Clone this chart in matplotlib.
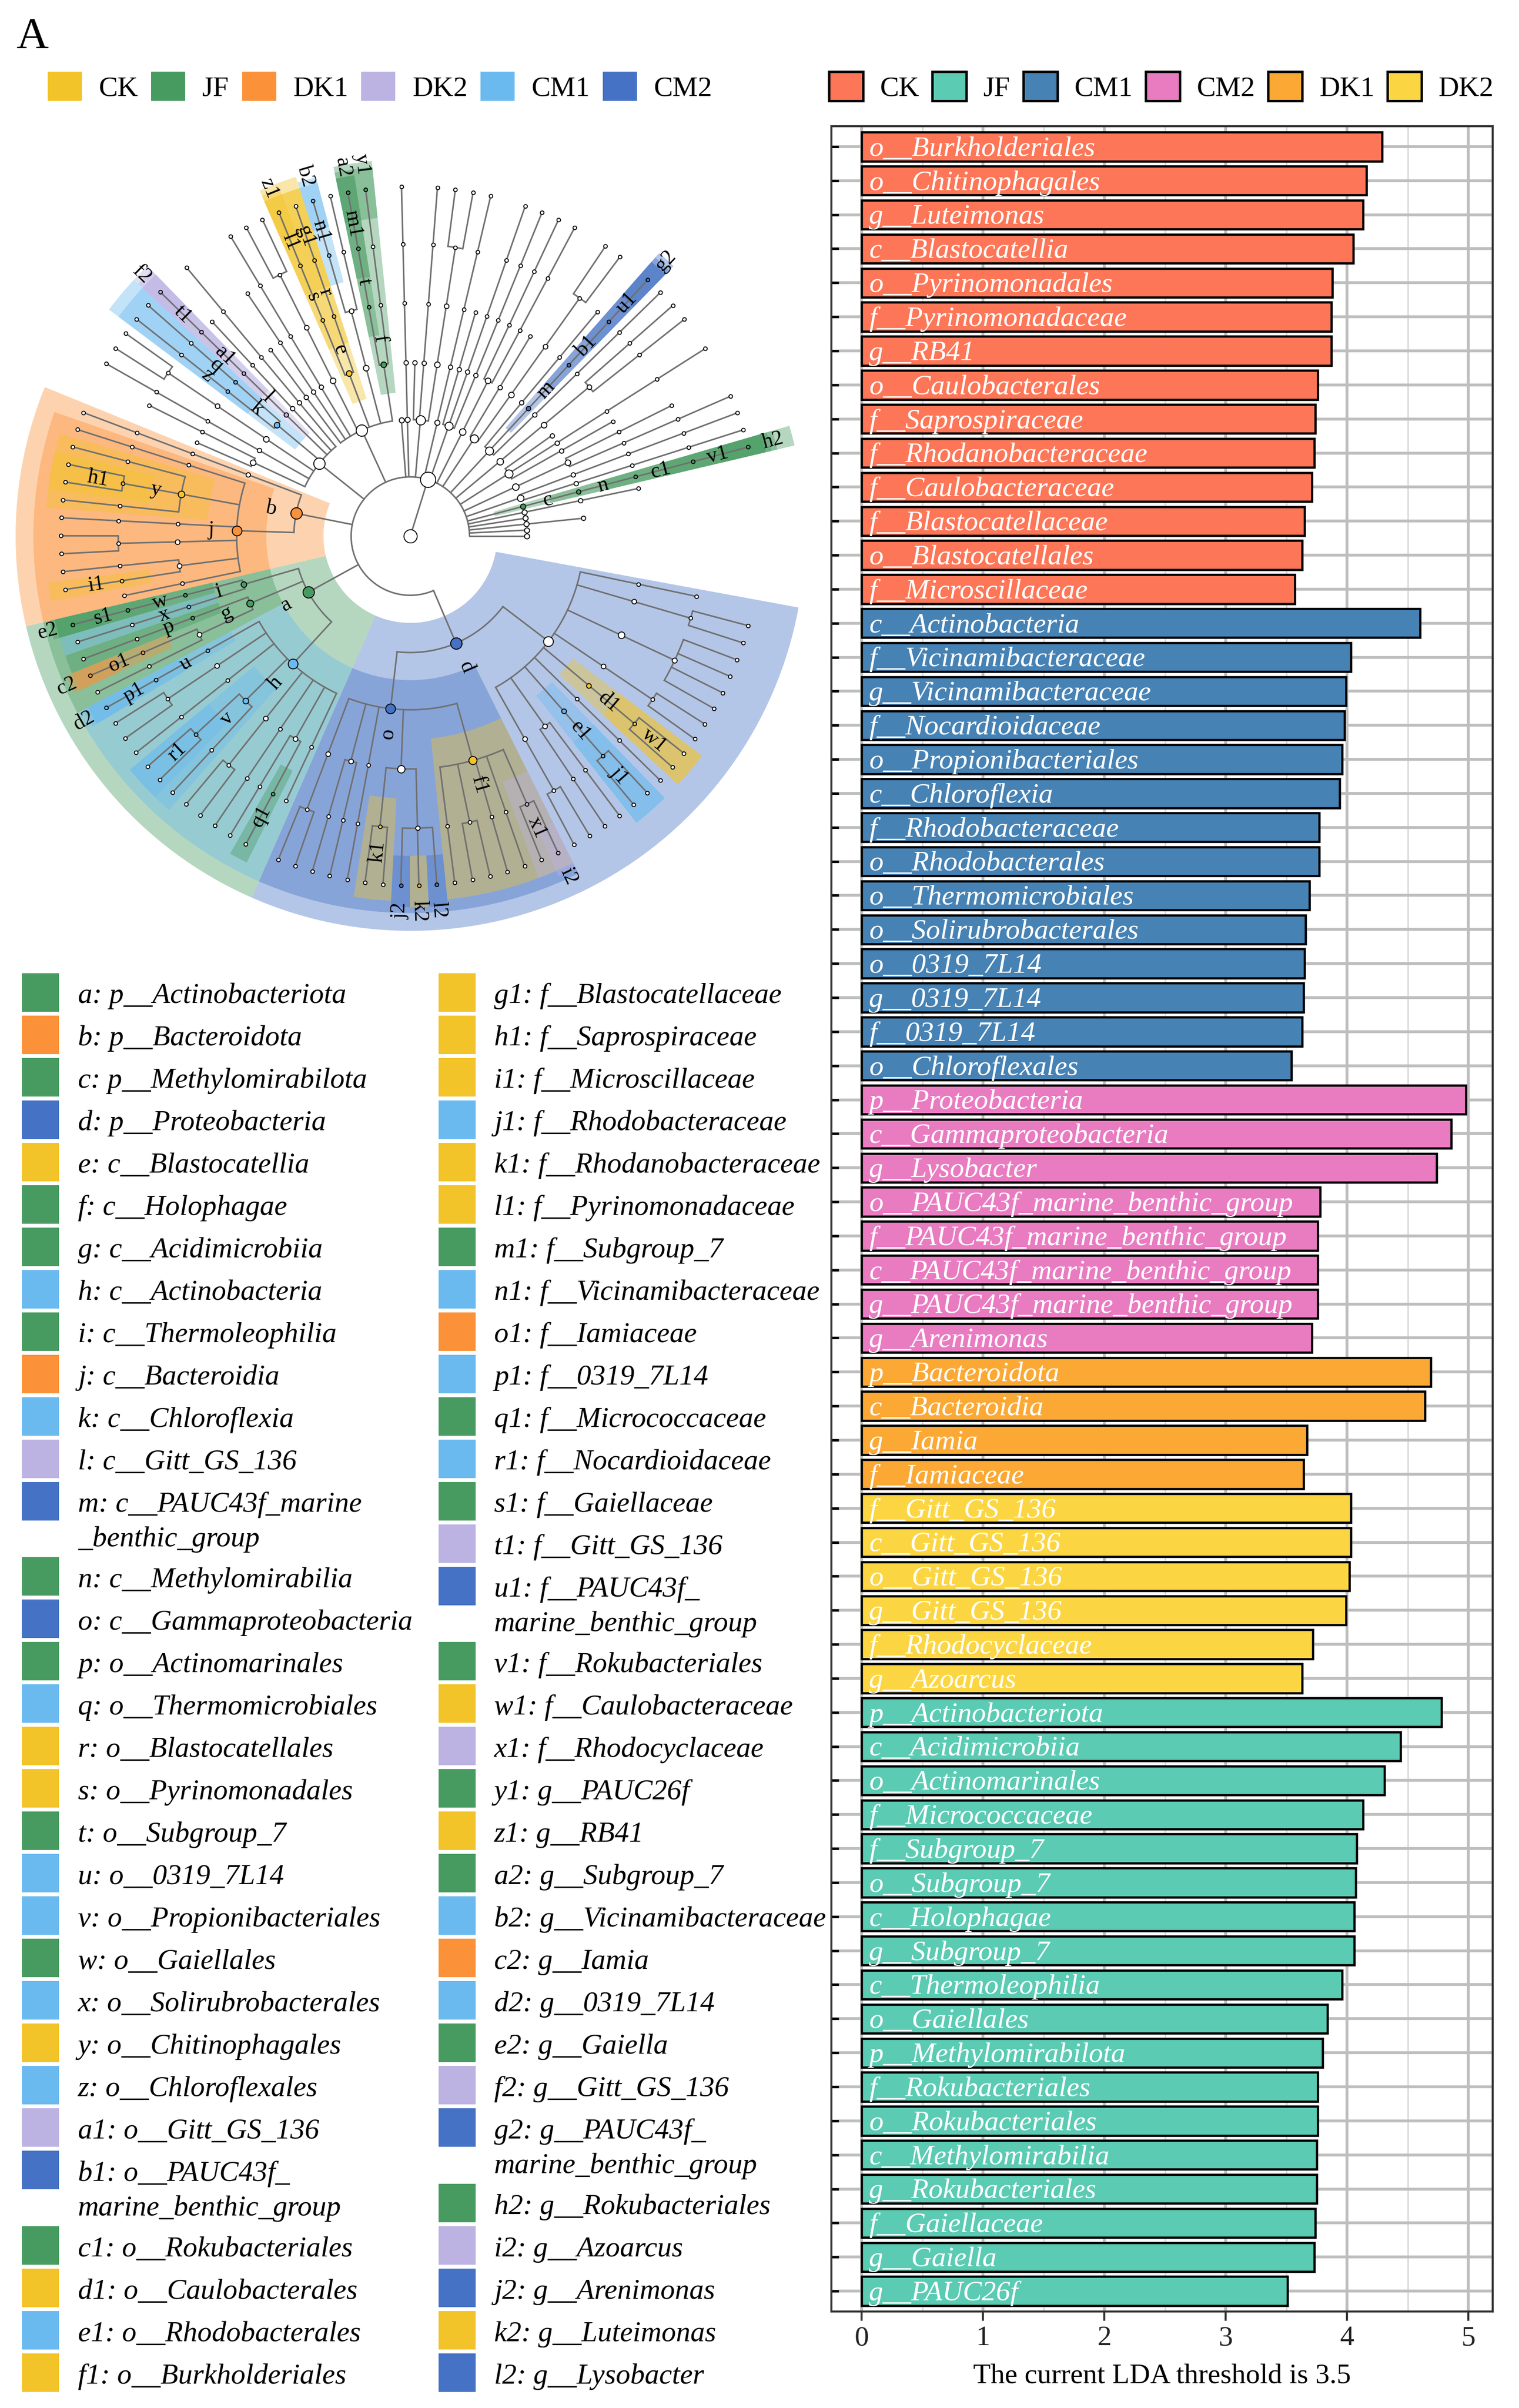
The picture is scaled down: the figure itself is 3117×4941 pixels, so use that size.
import numpy as np
import matplotlib
matplotlib.use('Agg')
import matplotlib.pyplot as plt
from matplotlib.patches import Wedge, Rectangle, Patch

plt.rcParams['font.family'] = ['Liberation Serif', 'DejaVu Serif']

# ===================== DATA =====================
# --- group colours ---
clado_groups = ['CK', 'JF', 'DK1', 'DK2', 'CM1', 'CM2']
clado_colors = {'CK': '#F2C42A', 'JF': '#479B60', 'DK1': '#FB9139',
                'DK2': '#BCB3E3', 'CM1': '#6BBAEF', 'CM2': '#4572C4'}
bar_legend_groups = ['CK', 'JF', 'CM1', 'CM2', 'DK1', 'DK2']
bar_colors = {'CK': '#FD7657', 'JF': '#5BCBB3', 'CM1': '#4682B4',
              'CM2': '#E97BC1', 'DK1': '#FBA834', 'DK2': '#FCD642'}

# --- LDA bar chart (top to bottom) ---
ck_taxa = ['o__Burkholderiales', 'o__Chitinophagales', 'g__Luteimonas', 'c__Blastocatellia',
           'o__Pyrinomonadales', 'f__Pyrinomonadaceae', 'g__RB41', 'o__Caulobacterales',
           'f__Saprospiraceae', 'f__Rhodanobacteraceae', 'f__Caulobacteraceae',
           'f__Blastocatellaceae', 'o__Blastocatellales', 'f__Microscillaceae']
ck_lda = [4.29, 4.16, 4.13, 4.05, 3.88, 3.87, 3.87, 3.76, 3.74, 3.73, 3.71, 3.65, 3.63, 3.57]
cm1_taxa = ['c__Actinobacteria', 'f__Vicinamibacteraceae', 'g__Vicinamibacteraceae',
            'f__Nocardioidaceae', 'o__Propionibacteriales', 'c__Chloroflexia',
            'f__Rhodobacteraceae', 'o__Rhodobacterales', 'o__Thermomicrobiales',
            'o__Solirubrobacterales', 'o__0319_7L14', 'g__0319_7L14', 'f__0319_7L14',
            'o__Chloroflexales']
cm1_lda = [4.60, 4.03, 3.99, 3.98, 3.96, 3.94, 3.77, 3.77, 3.69, 3.66, 3.65, 3.64, 3.63, 3.54]
cm2_taxa = ['p__Proteobacteria', 'c__Gammaproteobacteria', 'g__Lysobacter',
            'o__PAUC43f_marine_benthic_group', 'f__PAUC43f_marine_benthic_group',
            'c__PAUC43f_marine_benthic_group', 'g__PAUC43f_marine_benthic_group', 'g__Arenimonas']
cm2_lda = [4.98, 4.86, 4.74, 3.78, 3.76, 3.76, 3.76, 3.71]
dk1_taxa = ['p__Bacteroidota', 'c__Bacteroidia', 'g__Iamia', 'f__Iamiaceae']
dk1_lda = [4.69, 4.64, 3.67, 3.64]
dk2_taxa = ['f__Gitt_GS_136', 'c__Gitt_GS_136', 'o__Gitt_GS_136', 'g__Gitt_GS_136',
            'f__Rhodocyclaceae', 'g__Azoarcus']
dk2_lda = [4.03, 4.03, 4.02, 3.99, 3.72, 3.63]
jf_taxa = ['p__Actinobacteriota', 'c__Acidimicrobiia', 'o__Actinomarinales', 'f__Micrococcaceae',
           'f__Subgroup_7', 'o__Subgroup_7', 'c__Holophagae', 'g__Subgroup_7',
           'c__Thermoleophilia', 'o__Gaiellales', 'p__Methylomirabilota', 'f__Rokubacteriales',
           'o__Rokubacteriales', 'c__Methylomirabilia', 'g__Rokubacteriales', 'f__Gaiellaceae',
           'g__Gaiella', 'g__PAUC26f']
jf_lda = [4.78, 4.44, 4.31, 4.13, 4.08, 4.07, 4.06, 4.06, 3.96, 3.84, 3.80, 3.76, 3.76,
          3.75, 3.75, 3.74, 3.73, 3.51]

# --- cladogram key ---
clade_letters = list('abcdefghijklmnopqrstuvwxyz') + \
    [c + '1' for c in 'abcdefghijklmnopqrstuvwxyz'] + [c + '2' for c in 'abcdefghijkl']
clade_taxa = [
    'p__Actinobacteriota', 'p__Bacteroidota', 'p__Methylomirabilota', 'p__Proteobacteria',
    'c__Blastocatellia', 'c__Holophagae', 'c__Acidimicrobiia', 'c__Actinobacteria',
    'c__Thermoleophilia', 'c__Bacteroidia', 'c__Chloroflexia', 'c__Gitt_GS_136',
    'c__PAUC43f_marine_benthic_group', 'c__Methylomirabilia', 'c__Gammaproteobacteria',
    'o__Actinomarinales', 'o__Thermomicrobiales', 'o__Blastocatellales', 'o__Pyrinomonadales',
    'o__Subgroup_7', 'o__0319_7L14', 'o__Propionibacteriales', 'o__Gaiellales',
    'o__Solirubrobacterales', 'o__Chitinophagales', 'o__Chloroflexales', 'o__Gitt_GS_136',
    'o__PAUC43f_marine_benthic_group', 'o__Rokubacteriales', 'o__Caulobacterales',
    'o__Rhodobacterales', 'o__Burkholderiales', 'f__Blastocatellaceae', 'f__Saprospiraceae',
    'f__Microscillaceae', 'f__Rhodobacteraceae', 'f__Rhodanobacteraceae', 'f__Pyrinomonadaceae',
    'f__Subgroup_7', 'f__Vicinamibacteraceae', 'f__Iamiaceae', 'f__0319_7L14',
    'f__Micrococcaceae', 'f__Nocardioidaceae', 'f__Gaiellaceae', 'f__Gitt_GS_136',
    'f__PAUC43f_marine_benthic_group', 'f__Rokubacteriales', 'f__Caulobacteraceae',
    'f__Rhodocyclaceae', 'g__PAUC26f', 'g__RB41', 'g__Subgroup_7', 'g__Vicinamibacteraceae',
    'g__Iamia', 'g__0319_7L14', 'g__Gaiella', 'g__Gitt_GS_136',
    'g__PAUC43f_marine_benthic_group', 'g__Rokubacteriales', 'g__Azoarcus', 'g__Arenimonas',
    'g__Luteimonas', 'g__Lysobacter']
clade_groups = [
    'JF', 'DK1', 'JF', 'CM2', 'CK', 'JF', 'JF', 'CM1', 'JF', 'DK1', 'CM1', 'DK2', 'CM2', 'JF',
    'CM2', 'JF', 'CM1', 'CK', 'CK', 'JF', 'CM1', 'CM1', 'JF', 'CM1', 'CK', 'CM1', 'DK2', 'CM2',
    'JF', 'CK', 'CM1', 'CK', 'CK', 'CK', 'CK', 'CM1', 'CK', 'CK', 'JF', 'CM1', 'DK1', 'CM1',
    'JF', 'CM1', 'JF', 'DK2', 'CM2', 'JF', 'CK', 'DK2', 'JF', 'CK', 'JF', 'CM1', 'DK1', 'CM1',
    'JF', 'DK2', 'CM2', 'JF', 'DK2', 'CM2', 'CK', 'CM2']
legend_wrap = {'m': 17, 'b1': 11, 'u1': 11, 'g2': 11}


# --- taxonomy tree (kingdom -> phylum -> class -> order -> family -> genus) ---
def N(name='', *kids):
    return (name, list(kids))


PAUC = 'PAUC43f_marine_benthic_group'
phyla = [
    N(), N(), N('', N()), N(), N('', N('', N())),
    N('p__Methylomirabilota', N('c__Methylomirabilia', N('o__Rokubacteriales',
      N('f__Rokubacteriales', N('g__Rokubacteriales'))))),
    N('', N('', N('', N('', N()))), N('', N('', N('', N())))),
    N('', N('', N('', N('', N())), N('', N()))),
    N('', N('', N()), N('', N('', N('', N()))), N()),
    N('', N('', N('', N('', N()), N('', N())))),
    N('', N('', N('', N('', N()))),
      N('c__' + PAUC, N('o__' + PAUC, N('f__' + PAUC, N('g__' + PAUC)))),
      N('', N('', N()))),
    N('', N('', N('', N('', N(), N()))), N('', N())),
    N('', N('', N('', N('', N())), N('', N('', N())))),
    N('', N('', N('', N('', N()))), N('', N('', N('', N()))), N('', N())),
    N('', N('', N('', N('', N())))),
    N('', N('', N('', N('', N(), N()))), N('', N('', N('', N()))), N()),
    N('', N('', N('', N('', N())))),
    N(),
    # Acidobacteriota
    N('', N('c__Holophagae', N('', N('', N('g__PAUC26f'))),
            N('o__Subgroup_7', N('f__Subgroup_7', N('g__Subgroup_7')))),
      N('', N('', N('', N()), N('f__Vicinamibacteraceae', N('g__Vicinamibacteraceae')))),
      N('c__Blastocatellia', N('o__Blastocatellales', N('f__Blastocatellaceae', N())),
        N('o__Pyrinomonadales', N('f__Pyrinomonadaceae', N('g__RB41')))),
      N('', N('', N('', N(), N()))), N('', N('', N('', N()))), N('', N('', N())), N('', N())),
    # Chloroflexi
    N('', N('', N('', N('', N()))), N('', N('', N())),
      N('c__Gitt_GS_136', N('o__Gitt_GS_136', N('f__Gitt_GS_136', N('g__Gitt_GS_136')))),
      N('c__Chloroflexia', N('o__Thermomicrobiales', N('', N())),
        N('o__Chloroflexales', N('', N()))),
      N('', N('', N('', N(), N()))), N('', N('', N('', N()))), N('', N('', N()), N())),
    # Bacteroidota
    N('p__Bacteroidota', N('', N('', N('', N()))),
      N('c__Bacteroidia', N('', N('', N())),
        N('o__Chitinophagales', N('', N()), N('f__Saprospiraceae', N(), N()), N('', N())),
        N('', N('', N())), N('', N('', N(), N())),
        N('', N('', N()), N('f__Microscillaceae', N())), N('', N()))),
    # Actinobacteriota
    N('p__Actinobacteriota',
      N('c__Thermoleophilia', N('o__Gaiellales', N('f__Gaiellaceae', N('g__Gaiella'))),
        N('o__Solirubrobacterales', N('', N()))),
      N('c__Acidimicrobiia', N('o__Actinomarinales', N('', N())),
        N('', N('f__Iamiaceae', N('g__Iamia')), N('', N()))),
      N('c__Actinobacteria',
        N('o__0319_7L14', N('f__0319_7L14', N('g__0319_7L14'))),
        N('', N('', N(), N())), N('', N('', N())),
        N('o__Propionibacteriales', N('f__Nocardioidaceae', N(), N()), N('', N())),
        N('', N('', N(), N())), N('', N('', N())),
        N('', N('', N()), N('f__Micrococcaceae', N())), N('', N()))),
    # Proteobacteria
    N('p__Proteobacteria',
      N('c__Gammaproteobacteria', N('', N('', N(), N())), N('', N('', N()), N('', N())),
        N('', N('', N())),
        N('', N('f__Rhodanobacteraceae', N(), N()),
          N('', N('g__Arenimonas'), N('g__Luteimonas'), N('g__Lysobacter'))),
        N('o__Burkholderiales', N('', N()), N('', N(), N()), N('', N()), N('', N()),
          N('f__Rhodocyclaceae', N(), N('g__Azoarcus')))),
      N('', N('', N('', N(), N())), N('', N('', N()), N('', N())),
        N('o__Rhodobacterales', N('f__Rhodobacteraceae', N(), N())),
        N('', N('', N())),
        N('o__Caulobacterales', N('f__Caulobacteraceae', N(), N())),
        N('', N('', N(), N())), N('', N('', N(), N(), N(), N())),
        N('', N('', N(), N())), N('', N()))),
]
tree = N('root', N('k__Bacteria', *phyla))

# ===================== FIGURE =====================
W, H, DPI = 3117, 4941, 300
fig = plt.figure(figsize=(W / DPI, H / DPI), dpi=DPI)
fig.patch.set_facecolor('white')

# ---------- cladogram ----------
R_LEVEL = [0.0, 0.15, 0.295, 0.44, 0.59, 0.74, 0.885]
OUTER = [1.0, 1.0, 1.0, 0.955, 0.925, 0.925, 0.94]
START, STEP = 0.0, 2.95
mark = {t: (l, g) for t, l, g in zip(clade_taxa, clade_letters, clade_groups)}

nodes = []


def layout(node, level, counter):
    name, kids = node
    if not kids:
        rec = dict(name=name, level=level, theta=START + STEP * counter[0], kids=[],
                   lo=counter[0], hi=counter[0])
        counter[0] += 1
    else:
        recs = [layout(k, level + 1, counter) for k in kids]
        rec = dict(name=name, level=level, theta=float(np.mean([k['theta'] for k in recs])),
                   kids=recs, lo=recs[0]['lo'], hi=recs[-1]['hi'])
    nodes.append(rec)
    return rec


layout(tree, 0, [0])


def pol(r, th):
    t = np.radians(th)
    return r * np.cos(t), r * np.sin(t)


cx, cy, unit = 842, 1100, 810
axc = fig.add_axes([0, 1 - 1950 / H, 1690 / W, 1700 / H])
axc.set_xlim((0 - cx) / unit, (1690 - cx) / unit)
axc.set_ylim((cy - 1950) / unit, (cy - 250) / unit)
axc.axis('off')

marked = sorted([n for n in nodes if n['name'] in mark], key=lambda n: n['level'])
for rec in marked:
    letter, grp = mark[rec['name']]
    L = rec['level']
    th1 = START + STEP * rec['lo'] - STEP / 2
    th2 = START + STEP * rec['hi'] + STEP / 2
    r_in = R_LEVEL[L] - 0.075
    axc.add_patch(Wedge((0, 0), OUTER[L], th1, th2, width=OUTER[L] - r_in,
                        facecolor=clado_colors[grp], alpha=0.4, lw=0, zorder=1))

LC = '#707070'
for rec in nodes:
    if not rec['kids']:
        continue
    rp = R_LEVEL[rec['level']]
    ths = [k['theta'] for k in rec['kids']]
    if len(ths) > 1 and rp > 0:
        a = np.linspace(min(ths), max(ths), 300)
        x, y = pol(rp, a)
        axc.plot(x, y, color=LC, lw=0.75, zorder=2, solid_capstyle='round')
    for k in rec['kids']:
        rc = R_LEVEL[k['level']]
        x, y = pol(np.array([rp, rc]), k['theta'])
        axc.plot(x, y, color=LC, lw=0.75, zorder=2)

BASE = [6.5, 7.5, 5.6, 4.8, 4.0, 3.0, 2.2]
for rec in nodes:
    nleaf = rec['hi'] - rec['lo'] + 1
    if rec['level'] <= 1:
        ms = BASE[rec['level']]
    else:
        ms = BASE[rec['level']] * float(np.clip(np.sqrt(nleaf / 6.0), 0.45, 1.0))
        ms = max(ms, 1.8)
    fc = clado_colors[mark[rec['name']][1]] if rec['name'] in mark else 'white'
    x, y = pol(R_LEVEL[rec['level']], rec['theta'])
    axc.plot([x], [y], 'o', ms=ms, mfc=fc, mec='black', mew=0.45, zorder=3)

for rec in marked:
    letter, grp = mark[rec['name']]
    th = rec['theta']
    r = R_LEVEL[rec['level']] + 0.065
    x, y = pol(r, th)
    thn = (th + 180) % 360 - 180
    rot = thn if -90 < thn <= 90 else thn - 180
    axc.text(x, y, letter, fontsize=10.5, rotation=rot, rotation_mode='anchor',
             ha='center', va='center', zorder=4)

# ---------- overlay axes (pixel coords) for panel letter and key ----------
axf = fig.add_axes([0, 0, 1, 1])
axf.set_xlim(0, W)
axf.set_ylim(H, 0)
axf.axis('off')
axf.text(33, 99, 'A', fontsize=22, va='baseline', ha='left')

ROW = 87.0
sw_x = [45, 900]
tx_x = [160, 1014]
KEY_FS = 14.2
half = len(clade_letters) // 2
for col in range(2):
    y = 2036
    for idx in range(col * half, (col + 1) * half):
        letter, taxon, grp = clade_letters[idx], clade_taxa[idx], clade_groups[idx]
        axf.add_patch(Rectangle((sw_x[col], y - 39.5), 76, 79,
                                facecolor=clado_colors[grp], lw=0))
        if letter in legend_wrap:
            k = legend_wrap[letter]
            axf.text(tx_x[col], y + 22, f'{letter}: {taxon[:k]}', fontsize=KEY_FS,
                     style='italic', va='baseline', ha='left')
            axf.text(tx_x[col], y + 22 + 71, taxon[k:], fontsize=KEY_FS,
                     style='italic', va='baseline', ha='left')
            y += 1.78 * ROW
        else:
            axf.text(tx_x[col], y + 22, f'{letter}: {taxon}', fontsize=KEY_FS,
                     style='italic', va='baseline', ha='left')
            y += ROW

# top-left legend
h1 = [Patch(facecolor=clado_colors[g], edgecolor='none') for g in clado_groups]
fig.legend(h1, clado_groups, loc='center left', bbox_to_anchor=(98 / W, 1 - 178 / H),
           ncol=6, frameon=False, fontsize=14, handlelength=1.2, handleheight=1.2,
           handletextpad=0.6, columnspacing=0.45, borderaxespad=0, borderpad=0)

# ---------- LDA bar chart ----------
bar_taxa = ck_taxa + cm1_taxa + cm2_taxa + dk1_taxa + dk2_taxa + jf_taxa
bar_lda = ck_lda + cm1_lda + cm2_lda + dk1_lda + dk2_lda + jf_lda
bar_grp = (['CK'] * len(ck_taxa) + ['CM1'] * len(cm1_taxa) + ['CM2'] * len(cm2_taxa) +
           ['DK1'] * len(dk1_taxa) + ['DK2'] * len(dk2_taxa) + ['JF'] * len(jf_taxa))
n = len(bar_taxa)
ypos = np.arange(n)

top_px, bot_px = 259, 4743
axb = fig.add_axes([1706 / W, 1 - bot_px / H, (3063 - 1706) / W, (bot_px - top_px) / H])
axb.barh(ypos, bar_lda, height=0.85, color=[bar_colors[g] for g in bar_grp],
         edgecolor='black', linewidth=1.1, zorder=3)
for i, t in enumerate(bar_taxa):
    axb.text(0.06, i + 0.27, t, color='white', fontsize=14, style='italic',
             ha='left', va='baseline', zorder=4)
axb.set_ylim(n - 1 + 0.6, -0.6)
axb.set_xlim(-0.249, 5.20)
axb.set_yticks(ypos)
axb.set_yticklabels([])
axb.set_xticks(range(6))
axb.set_xticks(np.arange(0.5, 5.5, 1.0), minor=True)
axb.set_axisbelow(True)
axb.grid(which='major', axis='both', color='#BEBEBE', lw=1.4)
axb.grid(which='minor', axis='x', color='#D9D9D9', lw=0.7)
axb.tick_params(axis='y', which='major', direction='in', length=3.5, width=1.2, color='black')
axb.tick_params(axis='x', which='major', direction='out', length=4.5, width=1.0,
                color='#333333', labelsize=14, labelcolor='#222222', pad=2.5)
axb.tick_params(axis='x', which='minor', length=0)
for s in axb.spines.values():
    s.set_color('#333333')
    s.set_linewidth(1.0)
axb.set_xlabel('The current LDA threshold is 3.5', fontsize=14, labelpad=6)

h2 = [Patch(facecolor=bar_colors[g], edgecolor='black', linewidth=1.2) for g in bar_legend_groups]
fig.legend(h2, bar_legend_groups, loc='center left', bbox_to_anchor=(1701 / W, 1 - 178 / H),
           ncol=6, frameon=False, fontsize=14, handlelength=1.2, handleheight=1.2,
           handletextpad=0.6, columnspacing=0.45, borderaxespad=0, borderpad=0)

fig.savefig('out.png', dpi=DPI)
